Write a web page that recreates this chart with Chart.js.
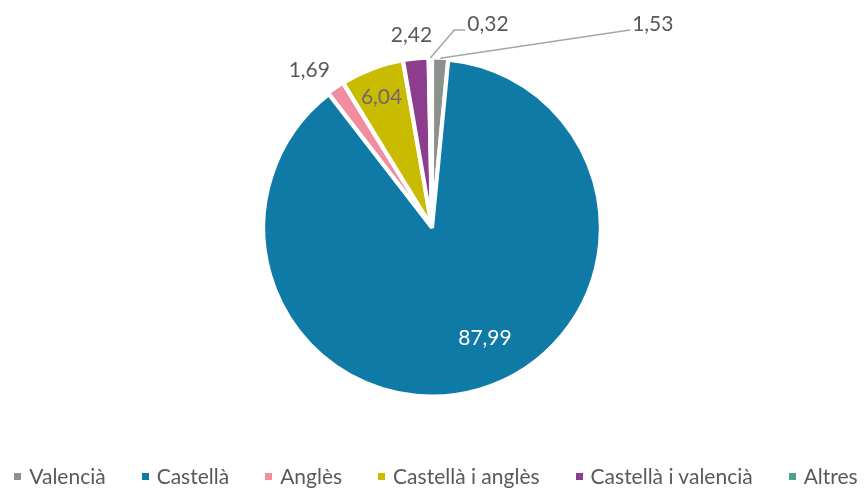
<!DOCTYPE html>
<html>
<head>
<meta charset="utf-8">
<script src="https://cdn.jsdelivr.net/npm/chart.js@4.4.1/dist/chart.umd.min.js"></script>
<style>
  html, body { margin: 0; padding: 0; background: #fff; }
  #wrap { position: relative; width: 864px; height: 489px; }
  #legend {
    position: absolute; left: 4px; top: 463px; width: 864px;
    display: flex; justify-content: center; gap: 36px;
    font-family: Lato, sans-serif; font-size: 21px; color: #595959;
    line-height: 26px; white-space: nowrap;
  }
  #legend .item { display: flex; align-items: center; }
  #legend .box { width: 7px; height: 7px; margin-right: 8px; }
</style>
</head>
<body>
<div id="wrap">
  <canvas id="myChart"></canvas>
  <div id="legend"></div>
</div>
<script>
const languages = ['Valencià', 'Castellà', 'Anglès', 'Castellà i anglès', 'Castellà i valencià', 'Altres'];
const shares = [1.53, 87.99, 1.69, 6.04, 2.42, 0.32];
const sliceColors = ['#8b918c', '#0f7aa6', '#f08ea0', '#c8bb00', '#8c3d8e', '#4aa38e'];

// where each value label goes, relative to its slice
const labelPlacement = [
  { mode: 'leader', dx: 188, dy: -28, len: 2, color: '#595959' },
  { mode: 'in', dist: 0.73, turn: -9.4, color: '#ffffff' },
  { mode: 'out', gap: 31, turn: -3.3, color: '#595959' },
  { mode: 'in', dist: 0.83, turn: -0.4, color: '#76666e' },
  { mode: 'out', gap: 25, turn: -0.6, color: '#595959' },
  { mode: 'leader', dx: 24, dy: -28, len: 11, color: '#595959' }
];

function formatValue(v) {
  return v.toFixed(2).replace('.', ',');
}

const valueLabels = {
  id: 'valueLabels',
  afterDatasetsDraw(chart) {
    const ctx = chart.ctx;
    const meta = chart.getDatasetMeta(0);
    ctx.save();
    ctx.font = '21px Lato';
    ctx.textBaseline = 'middle';
    meta.data.forEach((arc, i) => {
      const p = arc.getProps(['x', 'y', 'startAngle', 'endAngle', 'outerRadius'], true);
      const place = labelPlacement[i];
      const text = formatValue(shares[i]);
      const mid = (p.startAngle + p.endAngle) / 2 + (place.turn || 0) * Math.PI / 180;
      ctx.fillStyle = place.color;
      if (place.mode === 'in' || place.mode === 'out') {
        const r = place.mode === 'in' ? p.outerRadius * place.dist : p.outerRadius + place.gap;
        ctx.textAlign = 'center';
        ctx.fillText(text, p.x + Math.cos(mid) * r, p.y + Math.sin(mid) * r);
      } else {
        // leader line from the slice edge to the label
        const ax = p.x + Math.cos(mid) * (p.outerRadius + 1);
        const ay = p.y + Math.sin(mid) * (p.outerRadius + 1);
        const ex = ax + place.dx;
        const ey = ay + place.dy;
        ctx.strokeStyle = '#a6a6a6';
        ctx.lineWidth = 1.5;
        ctx.beginPath();
        ctx.moveTo(ax, ay);
        ctx.lineTo(ex, ey);
        ctx.lineTo(ex + place.len, ey);
        ctx.stroke();
        ctx.textAlign = 'left';
        ctx.fillText(text, ex + place.len + 2, ey - 6);
      }
    });
    ctx.restore();
  }
};

function buildLegend(chart) {
  const legend = document.getElementById('legend');
  const items = chart.options.plugins.legend.labels.generateLabels(chart);
  items.forEach(item => {
    const el = document.createElement('div');
    el.className = 'item';
    const box = document.createElement('span');
    box.className = 'box';
    box.style.background = item.fillStyle;
    const label = document.createElement('span');
    label.textContent = item.text;
    el.appendChild(box);
    el.appendChild(label);
    legend.appendChild(el);
  });
}

function makeChart() {
  const ctx = document.getElementById('myChart');
  const myChart = new Chart(ctx, {
    type: 'pie',
    data: {
      labels: languages,
      datasets: [{
        data: shares,
        backgroundColor: sliceColors,
        borderColor: '#ffffff',
        borderWidth: 4,
        offset: [3, 1, 3, 3, 3, 3]
      }]
    },
    options: {
      responsive: true,
      maintainAspectRatio: false,
      animation: false,
      radius: 168.5,
      layout: { padding: { bottom: 34 } },
      plugins: {
        legend: { display: false },
        tooltip: { enabled: false }
      }
    },
    plugins: [valueLabels]
  });
  buildLegend(myChart);
  return myChart;
}

document.addEventListener('DOMContentLoaded', function() {
  makeChart();
});
</script>
</body>
</html>
